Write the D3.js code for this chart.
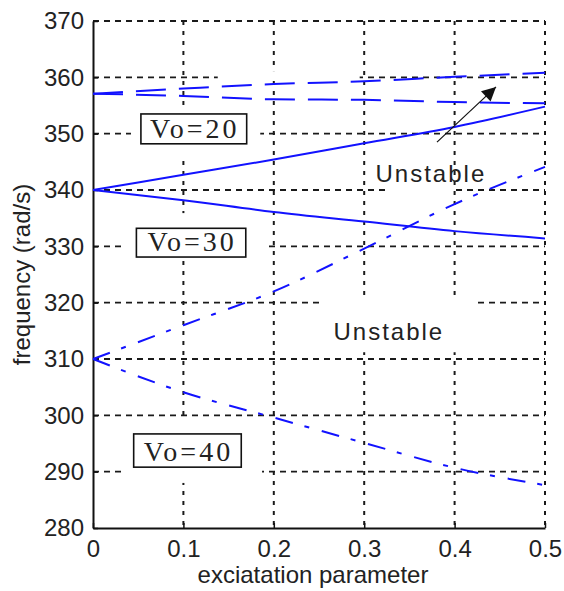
<!DOCTYPE html>
<html>
<head>
<meta charset="utf-8">
<script src="https://cdn.jsdelivr.net/npm/d3@7"></script>
<style>
  body { margin: 0; background: #fff; }
  svg { display: block; }
</style>
</head>
<body>
<svg id="chart"></svg>
<script>
// values
const xVals = [0, 0.1, 0.2, 0.3, 0.4, 0.5];
const vo20Upper = [357.1, 358.0, 358.8, 359.3, 360.1, 360.8];
const vo20Lower = [357.1, 356.7, 356.1, 356.0, 355.6, 355.4];
const vo30Upper = [340, 342.7, 345.4, 348.3, 351.2, 354.8];
const vo30Lower = [340, 338.2, 336.1, 334.4, 332.7, 331.4];
const vo40Upper = [310, 316.0, 322.0, 329.6, 337.5, 344.1];
const vo40Lower = [310, 304.1, 299.6, 295.1, 290.7, 287.6];

const xTicks = [0, 0.1, 0.2, 0.3, 0.4, 0.5];
const yTicks = [280, 290, 300, 310, 320, 330, 340, 350, 360, 370];

// label boxes (data units): text, x0, x1, yTop, yBottom
const labelBoxes = [
    { text: "Vo=20", x0: 0.053, x1: 0.170, y0: 353.5, y1: 348.2 },
    { text: "Vo=30", x0: 0.048, x1: 0.169, y0: 333.2, y1: 328.1 },
    { text: "Vo=40", x0: 0.045, x1: 0.164, y0: 296.7, y1: 290.8 }
];
// white patches that cut the grid in the original figure
const gridMasks = [
    { x0: 0.042, x1: 0.185, y0: 354.5, y1: 345.9 },
    { x0: 0.033, x1: 0.190, y0: 335.9, y1: 327.6 },
    { x0: 0.032, x1: 0.187, y0: 299.7, y1: 288.0 },
    { x0: 0.254, x1: 0.425, y0: 321.0, y1: 311.2 },
    { x0: 0.326, x1: 0.398, y0: 345.3, y1: 338.8 },
    { x0: 0.138, x1: 0.295, y0: 361.1, y1: 359.6 }
];
const notes = [
    { text: "Unstable", x: 0.3125, y: 341.4 },
    { text: "Unstable", x: 0.266, y: 313.4 }
];
const arrow = { x0: 0.3805, y0: 348.5, x1: 0.4458, y1: 358.3 };

const W = 564, H = 591;
const margin = { top: 21, right: 19, bottom: 63, left: 93 };

let svg = d3.select("#chart").attr("width", W).attr("height", H);

const x = d3.scaleLinear().domain([0, 0.5]).range([margin.left, W - margin.right]);
const y = d3.scaleLinear().domain([280, 370]).range([H - margin.bottom, margin.top]);

const gridColor = "#1a1a1a";

// grid
let grid = svg.append("g");
grid.selectAll(".hgrid")
    .data(yTicks.filter(d => d > 280))
    .join("line")
    .attr("x1", x(0)).attr("x2", x(0.5))
    .attr("y1", d => y(d)).attr("y2", d => y(d))
    .style("stroke", gridColor)
    .style("stroke-width", 1.8)
    .style("stroke-dasharray", "6,5");
grid.selectAll(".vgrid")
    .data(xTicks.filter(d => d > 0))
    .join("line")
    .attr("x1", d => x(d)).attr("x2", d => x(d))
    .attr("y1", y(370)).attr("y2", y(280))
    .style("stroke", gridColor)
    .style("stroke-width", 2)
    .style("stroke-dasharray", "4,6");

// masks
svg.append("g").selectAll("rect")
    .data(gridMasks)
    .join("rect")
    .attr("x", d => x(d.x0))
    .attr("y", d => y(d.y0))
    .attr("width", d => x(d.x1) - x(d.x0))
    .attr("height", d => y(d.y1) - y(d.y0))
    .style("fill", "#fff");

// axes (left and bottom only)
const xAxis = d3.axisBottom(x).tickValues(xTicks).tickFormat(d => d === 0 ? "0" : d3.format(".1f")(d))
    .tickSizeInner(-5).tickSizeOuter(0).tickPadding(12);
const yAxis = d3.axisLeft(y).tickValues(yTicks).tickFormat(d3.format("d"))
    .tickSizeInner(-5).tickSizeOuter(0).tickPadding(9);

let gx = svg.append("g").attr("transform", `translate(0,${y(280)})`).call(xAxis);
let gy = svg.append("g").attr("transform", `translate(${x(0)},0)`).call(yAxis);
[gx, gy].forEach(g => {
    g.select(".domain").style("stroke", "#111").style("stroke-width", 2);
    g.selectAll(".tick line").style("stroke", "#111").style("stroke-width", 1.5);
    g.selectAll(".tick text")
        .style("font-family", "'Liberation Sans', Arial, sans-serif")
        .style("font-size", "24px")
        .style("fill", "#222");
});

// curves
const line = d3.line().x((d, i) => x(xVals[i])).y(d => y(d)).curve(d3.curveMonotoneX);
const series = [
    { v: vo20Upper, dash: "30,13" },
    { v: vo20Lower, dash: "30,13" },
    { v: vo30Upper, dash: null },
    { v: vo30Lower, dash: null },
    { v: vo40Upper, dash: "18,12,5,13" },
    { v: vo40Lower, dash: "18,12,5,13" }
];
svg.append("g").selectAll("path")
    .data(series)
    .join("path")
    .attr("d", d => line(d.v))
    .style("fill", "none")
    .style("stroke", "#1212ff")
    .style("stroke-width", 2)
    .style("stroke-dasharray", d => d.dash);

// label boxes
let boxes = svg.append("g").selectAll("g")
    .data(labelBoxes)
    .join("g");
boxes.append("rect")
    .attr("x", d => x(d.x0))
    .attr("y", d => y(d.y0))
    .attr("width", d => x(d.x1) - x(d.x0))
    .attr("height", d => y(d.y1) - y(d.y0))
    .style("fill", "#fff")
    .style("stroke", "#111")
    .style("stroke-width", 1.6);
boxes.append("text")
    .attr("x", d => (x(d.x0) + x(d.x1)) / 2 + 1)
    .attr("y", d => y(d.y1) - 6)
    .attr("text-anchor", "middle")
    .style("font-family", "'Liberation Serif', 'Times New Roman', serif")
    .style("font-size", "28px")
    .style("letter-spacing", "3px")
    .style("fill", "#222")
    .text(d => d.text);

// unstable notes
svg.append("g").selectAll("text")
    .data(notes)
    .join("text")
    .attr("x", d => x(d.x))
    .attr("y", d => y(d.y))
    .style("font-family", "'Liberation Sans', Arial, sans-serif")
    .style("font-size", "24px")
    .style("letter-spacing", "2px")
    .style("fill", "#222")
    .text(d => d.text);

// arrow
svg.append("defs").append("marker")
    .attr("id", "head")
    .attr("viewBox", "0 0 10 10")
    .attr("refX", 10).attr("refY", 5)
    .attr("markerWidth", 17).attr("markerHeight", 14)
    .attr("markerUnits", "userSpaceOnUse")
    .attr("orient", "auto")
    .append("path")
    .attr("d", "M0,0 L10,5 L0,10 z")
    .style("fill", "#111");
svg.append("line")
    .attr("x1", x(arrow.x0)).attr("y1", y(arrow.y0))
    .attr("x2", x(arrow.x1)).attr("y2", y(arrow.y1))
    .style("stroke", "#111")
    .style("stroke-width", 1.2)
    .attr("marker-end", "url(#head)");

// axis titles
svg.append("text")
    .attr("x", (x(0) + x(0.5)) / 2 - 6)
    .attr("y", 583)
    .attr("text-anchor", "middle")
    .style("font-family", "'Liberation Sans', Arial, sans-serif")
    .style("font-size", "24px")
    .style("fill", "#222")
    .text("exciatation parameter");
svg.append("text")
    .attr("transform", `translate(30,${(y(280) + y(370)) / 2}) rotate(-90)`)
    .attr("text-anchor", "middle")
    .style("font-family", "'Liberation Sans', Arial, sans-serif")
    .style("font-size", "24px")
    .style("fill", "#222")
    .text("frequency (rad/s)");
</script>
</body>
</html>
